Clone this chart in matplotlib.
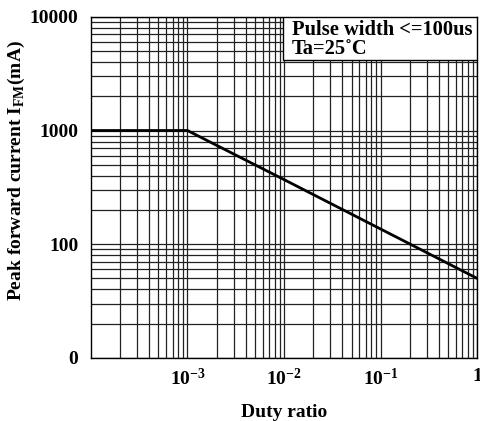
import numpy as np
import matplotlib
matplotlib.use("Agg")
import matplotlib.pyplot as plt
from matplotlib.patches import Rectangle
from matplotlib.ticker import FixedLocator, LogLocator, NullFormatter

# curve
duty = [1e-4, 1e-3, 1e-2, 1e-1, 1]
ifm = [1000, 1000, 370, 136, 50]

xticks = [1e-3, 1e-2, 1e-1, 1]
xlabels = ["$\\mathbf{10^{-3}}$", "$\\mathbf{10^{-2}}$", "$\\mathbf{10^{-1}}$", "1"]
yticks = [10, 100, 1000, 10000]
ylabels = ["0", "100", "1000", "10000"]

font = "Liberation Serif"
plt.rcParams["font.family"] = [font, "DejaVu Serif"]
plt.rcParams["font.weight"] = "bold"
plt.rcParams["mathtext.fontset"] = "custom"
plt.rcParams["mathtext.rm"] = font
plt.rcParams["mathtext.bf"] = font + ":bold"

fig = plt.figure(figsize=(4.81, 4.21), dpi=100)
ax = fig.add_axes([0.189, 0.150, 0.803, 0.810])

ax.set_xscale("log")
ax.set_yscale("log")
ax.set_xlim(1e-4, 1)
ax.set_ylim(10, 10000)

ax.xaxis.set_minor_locator(LogLocator(base=10, subs=np.arange(2, 10)))
ax.yaxis.set_minor_locator(LogLocator(base=10, subs=np.arange(2, 10)))
ax.xaxis.set_minor_formatter(NullFormatter())
ax.yaxis.set_minor_formatter(NullFormatter())
ax.xaxis.set_major_locator(FixedLocator(xticks))
ax.yaxis.set_major_locator(FixedLocator(yticks))
ax.set_xticklabels(xlabels)
ax.set_yticklabels(ylabels)
ax.tick_params(which="both", length=0, labelsize=14)
ax.tick_params(axis="y", pad=9)
ax.tick_params(axis="x", pad=7)

ax.grid(True, which="both", color="#222222", lw=0.9)
for s in ax.spines.values():
    s.set_color("black")
    s.set_linewidth(1.0)

ax.plot(duty, ifm, color="black", lw=2, zorder=3)

# condition box in the upper right corner
ax.add_patch(Rectangle((0.497, 0.874), 0.503, 0.126, transform=ax.transAxes,
                       fc="white", ec="black", lw=1.0, zorder=4))
ax.text(0.52, 0.992, "Pulse width <=100us\nTa=25\u02daC", transform=ax.transAxes,
        ha="left", va="top", fontsize=14.8, fontweight="bold", linespacing=0.95,
        zorder=5)

ax.set_xlabel("Duty ratio", fontsize=14, fontweight="bold", labelpad=11)
ax.set_ylabel("Peak forward current I$_{\\mathbf{FM}}$(mA)", fontsize=14,
              fontweight="bold")
ax.yaxis.set_label_coords(-0.165, 0.548)

fig.savefig("out.png", dpi=100)
